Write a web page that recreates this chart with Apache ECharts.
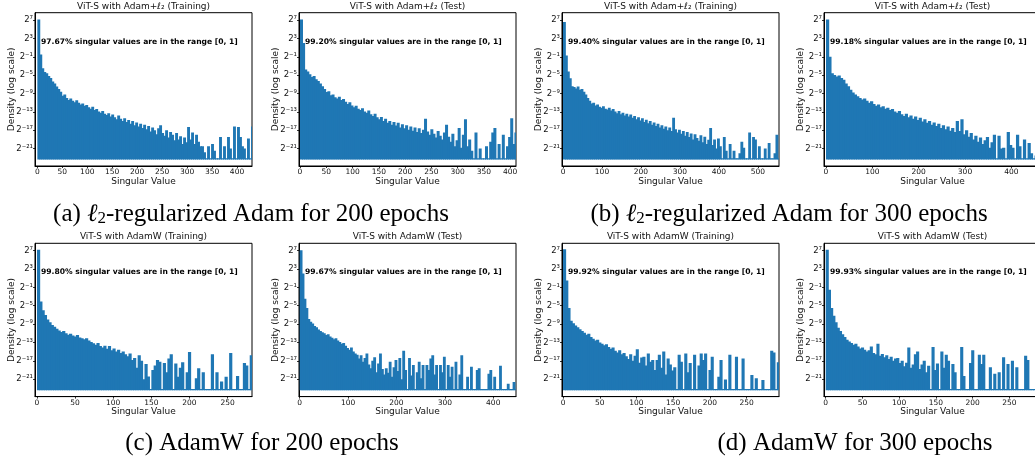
<!DOCTYPE html>
<html>
<head>
<meta charset="utf-8">
<style>
  html, body { margin: 0; padding: 0; background: #fff; }
  #chart { width: 1035px; height: 457px; }
</style>
<script src="https://cdn.jsdelivr.net/npm/echarts@6/dist/echarts.min.js"></script>
</head>
<body>
<div id="chart"></div>
<script>
// log2(density) of every histogram bin; null = empty bin
const adam200Train = [
  7.1, -0.5, -3.5, -4.3, -4.6, -5.2, -5.6, -6.4, -6.8, -7.5,
  -8.0, -8.6, -9.5, -9.2, -10.0, -10.4, -10.1, -10.6, -10.9, -10.5,
  -11.0, -11.4, -11.2, -11.7, -11.5, -12.0, -12.3, -11.9, -12.6, -12.4,
  -12.9, -13.2, -12.8, -13.4, -13.7, -13.3, -14.0, -13.6, -14.2, -14.6,
  -13.8, -14.5, -15.0, -14.4, -15.2, -14.8, -15.6, -15.0, -15.9, -15.3,
  -16.2, -15.6, -16.5, -15.8, -16.8, -16.1, -17.3, -16.4, -17.0, -17.9,
  -16.6, -15.9, -17.6, -18.2, -17.0, -18.6, -17.4, -18.0, -19.2, -17.6,
  -19.0, -18.3, -20.0, -18.6, -19.6, -16.3, -19.0, -17.5, -20.0, -18.0,
  -19.5, -20.5, -20.5, -21.8, null, -20.5, null, -20.0, -21.5, null,
  null, -18.5, null, -20.5, null, -18.5, -21.0, null, -16.2, null,
  -16.3, -18.5, -20.5, -21.0, null, -18.8, null, -16.2
]
const adam200Test = [
  7.1, 2.0, -3.8, -4.2, -4.8, -5.4, -5.2, -5.9, -6.3, -6.8,
  -7.4, -8.0, -8.7, -8.5, -9.4, -9.2, -9.8, -10.1, -9.7, -10.4,
  -10.2, -10.8, -11.3, -10.9, -11.6, -12.0, -11.7, -12.3, -12.6, -12.2,
  -12.9, -13.2, -12.7, -13.5, -13.9, -13.4, -14.2, -14.6, -14.1, -15.0,
  -14.5, -15.4, -15.0, -15.8, -15.2, -16.0, -15.4, -16.4, -15.7, -16.6,
  -15.9, -16.9, -16.2, -17.1, -16.4, -17.4, -16.6, -17.6, -16.9, -14.5,
  -17.3, -18.0, -16.8, -17.8, -18.6, -17.2, -18.2, -19.0, -17.5, -15.8,
  -18.4, -19.5, -17.8, -20.5, -19.2, -16.5, -20.8, -18.0, -14.6, -20.5,
  -19.0, -21.5, null, -17.5, null, -21.0, null, null, -20.5, null,
  -19.5, -17.5, -16.5, null, -20.0, null, -18.0, null, -20.5, -18.5,
  -14.4, -20.0, -17.5
]
const adam300Train = [
  6.6, -0.7, -4.2, -5.7, -7.4, -7.6, -7.9, -7.5, -8.2, -8.0,
  -8.6, -9.2, -10.0, -10.6, -11.2, -11.0, -11.6, -11.4, -11.9, -12.1,
  -11.8, -12.3, -12.5, -12.1, -12.7, -12.4, -12.9, -13.3, -12.8, -13.5,
  -13.2, -13.8, -13.4, -14.0, -13.6, -14.3, -13.9, -14.6, -14.2, -14.9,
  -14.4, -15.2, -14.7, -15.5, -15.0, -15.8, -15.3, -16.1, -15.6, -16.4,
  -15.9, -16.7, -16.2, -17.0, -16.4, -17.2, -14.3, -16.8, -17.5, -16.9,
  -17.8, -17.2, -18.2, -17.4, -18.5, -17.7, -19.0, -17.9, -18.7, -19.3,
  -18.1, -19.6, -18.4, -20.0, -19.1, -16.5, -20.2, -19.0, -21.0, -18.8,
  -20.5, null, -18.5, -21.5, null, -20.0, null, -21.5, null, null,
  -22.0, -19.5, -20.8, null, null, -17.5, null, -18.5, -19.0, null,
  -20.5, null, null, -21.0, null, -19.8, null, null, -22.0, -18.0,
  null
]
const adam300Test = [
  7.1, -1.0, -4.6, -5.0, -5.3, -5.1, -5.6, -6.0, -6.8, -7.4,
  -8.2, -8.8, -9.2, -9.6, -10.0, -10.3, -10.1, -10.6, -11.0, -10.7,
  -11.3, -11.7, -11.4, -12.0, -11.8, -12.3, -12.1, -12.6, -12.4, -12.9,
  -13.2, -12.8, -13.5, -13.9, -13.4, -14.2, -13.8, -14.5, -14.0, -14.8,
  -14.3, -15.1, -14.6, -15.4, -15.0, -15.8, -15.3, -16.1, -15.6, -16.5,
  -15.9, -16.8, -16.2, -17.1, -16.5, -17.4, -15.0, -17.2, -14.6, -17.9,
  -17.0, -18.4, -17.6, -19.0, -18.2, -19.5, -18.6, -20.0, -19.2, -18.5,
  -20.8, -19.6, -18.0, null, -18.2, -21.0, -20.8, null, -17.4, -20.2,
  -20.8, null, -18.0, -20.5, null, -19.0, null, -19.8, -22.0, null,
  -22.5, -20.0, -19.0
]
const adamw200Train = [
  7.2, -4.1, -6.0, -7.0, -8.0, -8.6, -9.2, -9.6, -10.0, -10.4,
  -10.7, -10.5, -11.0, -11.3, -11.1, -11.5, -11.7, -11.4, -11.9, -12.1,
  -12.3, -12.1, -12.6, -12.9, -13.2, -13.5, -13.1, -13.8, -14.1, -13.7,
  -14.4, -13.8, -14.7, -14.3, -15.0, -14.6, -15.3, -15.0, -15.6, -16.0,
  -15.4, -16.8, -16.4, -18.5, -15.8, -17.0, -21.0, -17.7, -20.4, null,
  -19.0, -18.0, -16.8, -17.2, null, -17.5, -19.5, -16.5, -15.6, null,
  -17.6, -20.5, -18.5, -17.3, null, -19.5, -15.1, null, null, -20.8,
  -18.6, null, -19.5, null, null, null, -15.6, null, -19.5, null,
  -21.5, null, -20.5, null, -15.3, null, null, -20.3, null, null,
  -17.5, -18.0, null, -15.8
]
const adamw200Test = [
  7.1, 2.0, -3.5, -5.5, -7.9, -8.5, -8.9, -9.4, -9.7, -10.2,
  -10.5, -10.8, -11.0, -11.4, -11.2, -11.7, -12.0, -12.3, -12.1, -12.6,
  -12.9, -13.3, -13.1, -13.7, -14.2, -14.6, -14.1, -15.0, -15.4, -15.7,
  -16.5, -15.8, -17.2, -16.4, -15.4, -17.8, -18.6, -17.0, -16.2, -19.5,
  -17.6, -15.4, -18.8, -20.0, -18.6, -19.6, -17.2, -20.5, -18.4, -16.8,
  -19.2, -16.4, -21.0, -14.8, -19.0, null, -16.4, -20.2, -17.9, null,
  -19.5, -17.2, -20.8, -17.9, null, -17.9, -19.0, -16.5, -15.8, -20.0,
  -17.9, null, -17.9, -19.5, -16.1, null, -17.9, -20.5, -18.3, null,
  -17.2, null, -20.0, -15.8, null, null, -20.5, null, -18.3, null,
  null, -19.0, -18.6, null, null, null, null, -19.8, -19.0, null,
  -20.5, null, null, -18.1, null, null, null, -22.0, null, null,
  -21.6, null
]
const adamw300Train = [
  7.3, 0.5, -5.5, -8.3, -8.8, -9.3, -9.7, -10.1, -10.5, -10.9,
  -11.3, -11.1, -11.8, -12.2, -12.6, -12.4, -13.0, -13.3, -13.6, -13.4,
  -14.0, -14.4, -14.1, -14.8, -15.2, -14.7, -15.6, -15.3, -16.0, -16.6,
  -15.6, -17.0, -15.9, -14.5, -17.4, -16.3, -16.1, -18.0, -15.4, -17.2,
  -16.8, -19.0, -16.8, -15.7, -18.5, -15.0, -20.0, -16.5, -17.8, -19.1,
  -18.4, null, -15.7, -17.2, null, -15.4, -19.5, -17.5, null, -15.7,
  null, -18.0, -15.4, -16.8, -15.4, null, -19.0, -16.1, null, null,
  -20.5, -16.8, null, -21.1, null, -15.7, null, null, -16.1, null,
  null, -16.5, null, null, null, -20.1, null, -20.8, null, null,
  -21.2, null, null, null, -14.8, -15.2, null, -17.3
]
const adamw300Test = [
  7.2, -1.5, -5.5, -7.2, -8.6, -9.8, -10.5, -11.2, -11.8, -12.4,
  -12.8, -13.1, -13.5, -13.3, -13.9, -14.3, -14.1, -14.6, -15.0, -14.7,
  -13.9, -15.3, -15.6, -13.3, -15.9, -15.5, -16.2, -15.8, -16.6, -16.1,
  -17.0, -16.5, -16.4, -17.5, -17.0, -18.2, -17.4, -14.1, -18.5, -17.8,
  -15.6, -15.0, -18.8, -17.8, -17.0, -19.5, -18.1, null, -14.0, -19.0,
  -17.6, null, -15.0, -18.5, -15.7, -17.0, null, -17.7, -19.5, null,
  null, -14.0, -20.3, null, null, -17.5, -14.7, null, null, -15.7,
  -17.7, -15.7, null, null, -18.4, null, -19.8, null, -19.5, null,
  -16.2, null, -17.7, null, -17.0, null, -18.4, null, null, null,
  -15.9, -16.8, null, null, null, -15.7, null, null
]

// histogram bin width (singular value units) of each panel
const binWidths = [4, 4, 5, 5, 3, 4, 3, 3]
const panelTitles = [
  'ViT-S with Adam+ℓ₂ (Training)', 'ViT-S with Adam+ℓ₂ (Test)',
  'ViT-S with Adam+ℓ₂ (Training)', 'ViT-S with Adam+ℓ₂ (Test)',
  'ViT-S with AdamW (Training)', 'ViT-S with AdamW (Test)',
  'ViT-S with AdamW (Training)', 'ViT-S with AdamW (Test)'
]
const ratios = ['97.67%', '99.20%', '99.40%', '99.18%', '99.80%', '99.67%', '99.92%', '99.93%']
const xTicks50to400 = [0, 50, 100, 150, 200, 250, 300, 350, 400]
const xTicks100to500 = [0, 100, 200, 300, 400, 500]
const xTicks100to400 = [0, 100, 200, 300, 400]
const xTicks50to250 = [0, 50, 100, 150, 200, 250]
const yTicks = [-21, -17, -13, -9, -5, -1, 3, 7]
const captions = ['(a) {it|ℓ}{sub|2}-regularized Adam for 200 epochs', '(b) {it|ℓ}{sub|2}-regularized Adam for 300 epochs',
  '(c) AdamW for 200 epochs', '(d) AdamW for 300 epochs']

const densities = [adam200Train, adam200Test, adam300Train, adam300Test,
  adamw200Train, adamw200Test, adamw300Train, adamw300Test]
const xTicks = [xTicks50to400, xTicks50to400, xTicks100to500, xTicks100to400,
  xTicks50to250, xTicks100to400, xTicks50to250, xTicks50to250]
const xRanges = [[-4.7, 430], [-1.9, 411], [-2.6, 554], [-4.3, 464],
  [-2.6, 282], [-1.4, 447], [-1.4, 294], [-2.3, 293]]

const FONT = 'DejaVu Sans'
const BLUE = '#1f77b4'
const FLOOR = -23.4 // level the bars rise from
const colLeft = [35, 299, 562, 824]
const rowTop = [12.7, 243.3]
const PLOT_W = 217
const PLOT_H = 153.3

const SUP = { '-': '⁻', '0': '⁰', '1': '¹', '2': '²', '3': '³', '4': '⁴', '5': '⁵', '6': '⁶', '7': '⁷', '8': '⁸', '9': '⁹' }
function pow2Label(v) {
  return '2' + String(Math.round(v)).split('').map(c => SUP[c]).join('')
}

// one rect per bin, from the floor up to its level; a little overlap hides seams
function renderBin(params, api) {
  const base = api.coord([api.value(0), FLOOR])
  const top = api.coord([api.value(1), api.value(2)])
  const h = Math.max(base[1] - top[1], 1.2)
  return {
    type: 'rect',
    shape: { x: base[0], y: base[1] - h, width: top[0] - base[0] + 0.9, height: h },
    style: { fill: BLUE }
  }
}

const grids = []
const xAxes = []
const yAxes = []
const series = []
const texts = []

densities.forEach((vals, k) => {
  const col = k % 4
  const row = Math.floor(k / 4)
  const left = colLeft[col]
  const top = rowTop[row]
  const w = binWidths[k]

  grids.push({
    left: left, top: top, width: PLOT_W, height: PLOT_H,
    show: true, borderColor: '#000', borderWidth: 1,
    containLabel: false, outerBoundsMode: 'none'
  })
  xAxes.push({
    gridIndex: k, type: 'value', min: xRanges[k][0], max: xRanges[k][1],
    name: 'Singular Value', nameLocation: 'middle', nameGap: 11,
    nameTextStyle: { fontFamily: FONT, fontSize: 9, color: '#111' },
    axisLine: { show: true, onZero: false, lineStyle: { color: '#000', width: 1 } },
    axisTick: { show: true, length: 2, lineStyle: { color: '#000', width: 0.8 }, customValues: xTicks[k] },
    axisLabel: { customValues: xTicks[k], fontFamily: FONT, fontSize: 7.5, color: '#111', margin: 2 },
    splitLine: { show: false }
  })
  yAxes.push({
    gridIndex: k, type: 'value', min: -24.8, max: 8.6,
    name: 'Density (log scale)', nameLocation: 'middle', nameGap: 19, nameMoveOverlap: false,
    nameTextStyle: { fontFamily: FONT, fontSize: 9, color: '#111' },
    axisLine: { show: true, onZero: false, lineStyle: { color: '#000', width: 1 } },
    axisTick: { show: true, length: 2, lineStyle: { color: '#000', width: 0.8 }, customValues: yTicks },
    axisLabel: { customValues: yTicks, formatter: pow2Label, fontFamily: FONT, fontSize: 8.5, color: '#111', margin: 2 },
    splitLine: { show: false }
  })
  series.push({
    type: 'custom',
    xAxisIndex: k, yAxisIndex: k,
    clip: true,
    renderItem: renderBin,
    encode: { x: [0, 1], y: 2 },
    data: vals.map((e, i) => [i * w, (i + 1) * w, e === null ? FLOOR : e])
  })
  texts.push({
    type: 'text', silent: true, x: left + PLOT_W / 2, y: top - 6.5,
    style: { text: panelTitles[k], fontFamily: FONT, fontSize: 9, fill: '#111', align: 'center', verticalAlign: 'middle' }
  })
  texts.push({
    type: 'text', silent: true, x: left + 6, y: top + 29,
    style: { text: ratios[k] + ' singular values are in the range [0, 1]', fontFamily: FONT, fontSize: 7.6, fontWeight: 'bold', fill: '#000', align: 'left', verticalAlign: 'middle' }
  })
})

const captionPos = [[251, 214], [789, 214], [262, 443], [855, 443]]
captions.forEach((c, i) => {
  texts.push({
    type: 'text', silent: true, x: captionPos[i][0], y: captionPos[i][1],
    style: {
      text: c, fontFamily: 'Liberation Serif', fontSize: 25, lineHeight: 27, fill: '#000',
      align: 'center', verticalAlign: 'middle',
      rich: {
        it: { fontFamily: 'Liberation Serif', fontSize: 25, fontStyle: 'italic', lineHeight: 27 },
        sub: { fontFamily: 'Liberation Serif', fontSize: 17, lineHeight: 15, verticalAlign: 'bottom' }
      }
    }
  })
})

const chart = echarts.init(document.getElementById('chart'))
chart.setOption({
  animation: false,
  backgroundColor: '#fff',
  grid: grids,
  xAxis: xAxes,
  yAxis: yAxes,
  series: series,
  graphic: { elements: texts }
})
</script>
</body>
</html>
